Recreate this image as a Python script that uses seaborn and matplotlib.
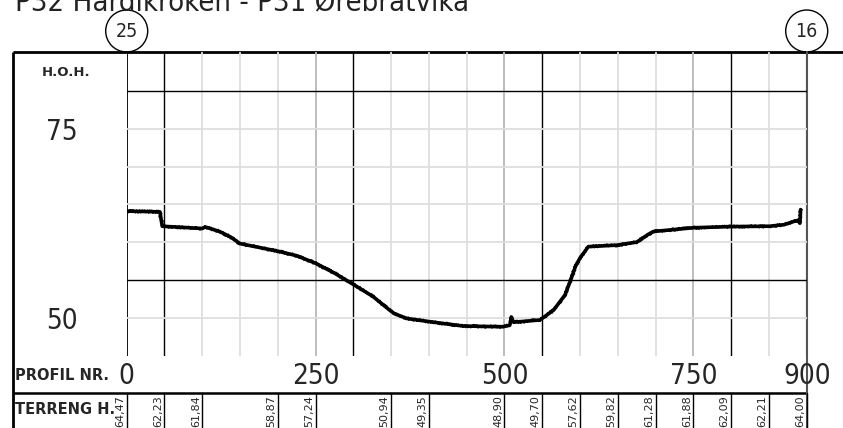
import pandas as pd
import matplotlib
matplotlib.use('Agg')
import matplotlib.pyplot as plt
import matplotlib.transforms as mtransforms
from matplotlib import font_manager
from matplotlib.patches import Circle
import seaborn as sns

# Terrengprofil lest av tegningen (profil nr., hoyde)
profil = [0, 44, 47, 100, 104, 123, 137, 150, 175, 200, 225, 250, 275, 300, 326,
          348, 355, 371, 399, 445, 498, 507, 509, 512, 547, 565, 580, 587, 594, 600,
          611, 649, 675, 690, 697, 750, 800, 851, 870, 882, 889, 891, 892]
hoyde = [64.1, 64.0, 62.1, 61.8, 62.0, 61.4, 60.7, 59.8, 59.3, 58.8, 58.2, 57.2, 55.9, 54.4, 52.8,
         51.0, 50.5, 49.9, 49.5, 48.9, 48.8, 49.0, 50.1, 49.4, 49.7, 51.0, 53.0, 54.8, 56.8, 57.9,
         59.4, 59.6, 60.0, 61.0, 61.4, 61.9, 62.05, 62.1, 62.3, 62.7, 62.9, 62.5, 64.3]

# Tabellrad "TERRENG H."
stasjon = [0, 50, 100, 200, 250, 350, 400, 500, 550, 600, 650, 700, 750, 800, 850, 900]
terreng = ['64,47', '62,23', '61,84', '58,87', '57,24', '50,94', '49,35', '48,90',
           '49,70', '57,62', '59,82', '61,28', '61,88', '62,09', '62,21', '64,00']

profil_ticks = [0, 250, 500, 750, 900]
hoh_labels = [75, 50]
gitter_x = list(range(0, 901, 50))
gitter_y = list(range(50, 81, 5))
punkt_start, punkt_slutt = '25', '16'
tittel = 'P32 Hardikroken - P31 Ørebratvika'

sns.set_style('white')
plt.rcParams['font.family'] = ['DejaVu Sans']

# smal skrift hvis den finnes
names = {f.name for f in font_manager.fontManager.ttflist}
if 'Liberation Sans Narrow' in names:
    smal = dict(family='Liberation Sans Narrow')
else:
    smal = dict(family='DejaVu Sans', stretch='condensed')

W, H = 843, 428
fig = plt.figure(figsize=(W / 100, H / 100), dpi=100)

# overlay i piksler for rammen
over = fig.add_axes([0, 0, 1, 1])
over.set_xlim(0, W)
over.set_ylim(H, 0)
over.axis('off')

L, R, T, B = 126.7, 806.7, 52, 355.5
ax = fig.add_axes([L / W, 1 - B / H, (R - L) / W, (B - T) / H])
ax.set_facecolor('none')
ax.set_xlim(0, 900)
ax.set_ylim(45, 45 + (B - T) / 7.56)
for s in ax.spines.values():
    s.set_visible(False)

# rutenett
for x in gitter_x:
    if x in (50, 300, 550, 800):
        c, lw = 'black', 1.0
    elif x in (250, 500, 750):
        c, lw = '#b8b8b8', 1.3
    elif x == 0:
        c, lw = 'black', 1.3
    elif x == 900:
        c, lw = '#555555', 1.5
    else:
        c, lw = '#dedede', 1.3
    ax.axvline(x, color=c, lw=lw, zorder=1)
for y in gitter_y:
    if y in (55, 80):
        ax.axhline(y, color='black', lw=1.0, zorder=1)
    else:
        ax.axhline(y, color='#dedede', lw=1.3, zorder=1)

df = pd.DataFrame({'profil': profil, 'hoyde': hoyde})
sns.lineplot(x='profil', y='hoyde', data=df, ax=ax, color='black', lw=2.6,
             estimator=None, sort=False, zorder=3)
sns.lineplot(x='profil', y='hoyde', data=df, ax=ax, color='black', lw=1.0,
             estimator=None, sort=False, zorder=3)
ax.lines[-1].set_sketch_params(scale=1.6, length=2.0, randomness=5)
ax.set_xlabel('')
ax.set_ylabel('')

ax.set_xticks(profil_ticks)
ax.set_xticklabels([str(v) for v in profil_ticks], fontsize=20, **smal)
ax.tick_params(axis='x', length=0, pad=5)
ax.set_yticks([])

# ramme
over.plot([13, 843], [52, 52], color='black', lw=2, solid_capstyle='butt')
over.plot([13, 13], [52, 428], color='black', lw=2, solid_capstyle='butt')
over.plot([13, 807], [393, 393], color='black', lw=1.8, solid_capstyle='butt')

bt = mtransforms.blended_transform_factory(ax.transData, over.transData)
over.plot([900, 900], [52, 428], transform=bt, color='#555555', lw=1.5)
for x, lab in zip(stasjon, terreng):
    over.plot([x, x], [393, 428], transform=bt, color='black', lw=1.0)
    over.text(x, 411, lab, rotation=90, ha='right', va='center', fontsize=8,
              transform=mtransforms.offset_copy(bt, x=-1.5, units='dots'))

# hoydetekster
ht = mtransforms.blended_transform_factory(over.transData, ax.transData)
for v in hoh_labels:
    over.text(62, v, str(v), ha='center', va='center', fontsize=20,
              transform=mtransforms.offset_copy(ht, y=-3, units='dots'), **smal)

over.text(66, 72, 'H.O.H.', ha='center', va='center', fontsize=9.5, fontweight='bold')
over.text(15, 375, 'PROFIL NR.', ha='left', va='center', fontsize=10.5, fontweight='bold')
over.text(15, 410, 'TERRENG H.', ha='left', va='center', fontsize=10.5, fontweight='bold')

# punktsirkler
for cx, lab in ((126.7, punkt_start), (806.7, punkt_slutt)):
    over.add_patch(Circle((cx, 31), 21, fill=False, color='black', lw=1.0))
    over.text(cx, 31, lab, ha='center', va='center', fontsize=14, **smal)

fig.text(15 / W, 1 - 10 / H, tittel, fontsize=21, ha='left', va='baseline',
         color='#222222', **smal)

fig.savefig('out.png', dpi=100)
